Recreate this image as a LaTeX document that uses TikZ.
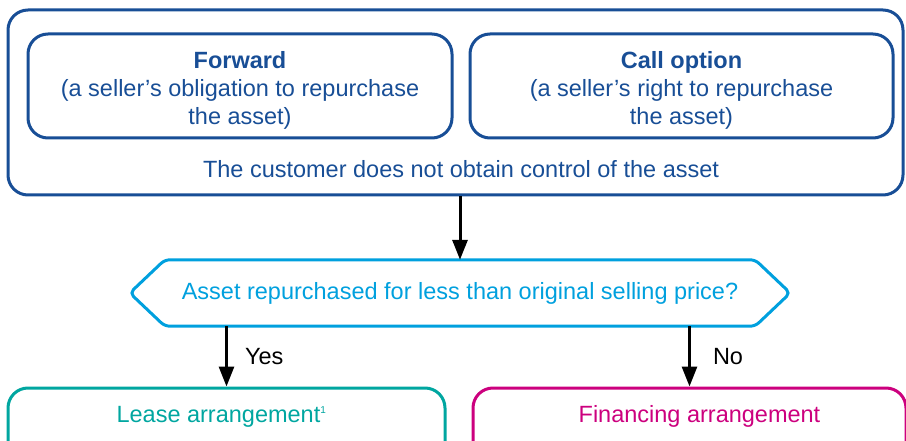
\documentclass[tikz,border=0pt]{standalone}
\usepackage{fontspec}
\setmainfont{Liberation Sans}
\usetikzlibrary{arrows.meta}
\definecolor{kblue}{RGB}{24,78,150}
\definecolor{kcyan}{RGB}{0,160,222}
\definecolor{kteal}{RGB}{0,166,160}
\definecolor{kmag}{RGB}{204,0,126}
\tikzset{
  box/.style={draw, line width=3pt, rounded corners=20pt, inner sep=0pt},
  txt/.style={align=center, inner sep=0pt, font=\fontsize{23.5}{28}\selectfont},
  arr/.style={line width=3pt, -{Triangle[length=20pt,width=15pt]}},
}
\begin{document}
\begin{tikzpicture}[x=1pt,y=-1pt]
\useasboundingbox (0,0) rectangle (906,441);
\clip (0,0) rectangle (906,441);
% outer box
\node[box, draw=kblue, minimum width=895pt, minimum height=185pt] (outer) at (455.5,102.5) {};
\node[box, draw=kblue, minimum width=424pt, minimum height=104pt] (fwd) at (240,86) {};
\node[box, draw=kblue, minimum width=423pt, minimum height=104pt] (call) at (681.5,86) {};
\node[txt, text=kblue] (fwdt) at ([yshift=-4pt]fwd.center) {\textbf{Forward}\\(a seller’s obligation to repurchase\\the asset)};
\node[txt, text=kblue] (callt) at ([yshift=-4pt]call.center) {\textbf{Call option}\\(a seller’s right to repurchase\\the asset)};
\node[txt, text=kblue] (ctl) at (461,169) {The customer does not obtain control of the asset};
% question hexagon
\node[txt, text=kcyan, minimum width=660pt, minimum height=66pt] (q) at (460,293) {Asset repurchased for less than original selling price?};
\draw[kcyan, line width=3pt, rounded corners=5pt]
  ([xshift=35pt]q.north west) -- ([xshift=-35pt]q.north east) -- (q.east)
  -- ([xshift=-35pt]q.south east) -- ([xshift=35pt]q.south west) -- (q.west) -- cycle;
% outcome boxes
\node[box, draw=kteal, minimum width=437pt, minimum height=104pt] (lease) at (226.5,440) {};
\node[box, draw=kmag, minimum width=433pt, minimum height=104pt] (fin) at (689.5,440) {};
\node[txt, text=kteal] (leaset) at ([xshift=-5pt,yshift=-30pt]lease.north) {Lease arrangement\textsuperscript{\fontsize{10}{10}\selectfont 1}};
\node[txt, text=kmag] (fint) at ([xshift=10pt,yshift=-30pt]fin.north) {Financing arrangement};
% arrows
\draw[arr] (q.north |- outer.south) -- (q.north);
\draw[arr] (lease.north |- q.south) -- node[right=17pt, txt, text=black] (yes) {Yes} (lease.north);
\draw[arr] (fin.north |- q.south) -- node[right=22pt, txt, text=black] (no) {No} (fin.north);
\end{tikzpicture}
\end{document}
